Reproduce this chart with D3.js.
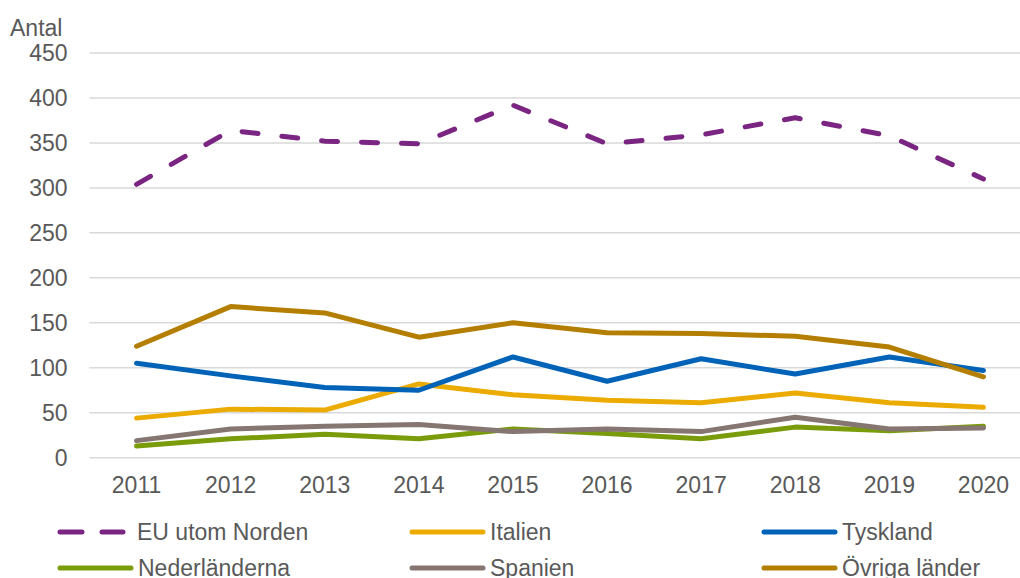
<!DOCTYPE html>
<html>
<head>
    <meta charset="UTF-8">
    <title>Antal per land</title>
    <script src="https://d3js.org/d3.v7.min.js"></script>
    <style>
        body { margin: 0; background: #fff; }
        svg { font-family: "Liberation Sans", Arial, sans-serif; }
        .tick text { fill: #595959; font-size: 23px; }
    </style>
</head>
<body>
    <svg></svg>
    <script>
        const years = ['2011', '2012', '2013', '2014', '2015', '2016', '2017', '2018', '2019', '2020'];
        const yTicks = [0, 50, 100, 150, 200, 250, 300, 350, 400, 450];

        const euUtomNorden = [304, 364, 352, 349, 392, 349, 359, 378, 358, 310];
        const italien = [44, 54, 53, 82, 70, 64, 61, 72, 61, 56];
        const tyskland = [105, 91, 78, 75, 112, 85, 110, 93, 112, 97];
        const nederlanderna = [13, 21, 26, 21, 32, 27, 21, 34, 30, 35];
        const spanien = [19, 32, 35, 37, 29, 32, 29, 45, 32, 33];
        const ovriga = [124, 168, 161, 134, 150, 139, 138, 135, 123, 90];

        const series = [
            { name: 'EU utom Norden', values: euUtomNorden, color: '#7B2582', dash: true },
            { name: 'Italien', values: italien, color: '#EBAB00' },
            { name: 'Tyskland', values: tyskland, color: '#0063B8' },
            { name: 'Nederländerna', values: nederlanderna, color: '#7A9C0B' },
            { name: 'Spanien', values: spanien, color: '#857672' },
            { name: 'Övriga länder', values: ovriga, color: '#B47E00' }
        ];

        const W = 1020, H = 578;
        const svg = d3.select('svg').attr('width', W).attr('height', H);

        const x = d3.scaleBand().domain(years).range([89.5, 1030.5]);
        const y = d3.scaleLinear().domain([0, 450]).range([457.7, 53]);

        // gridlines
        svg.append('g')
            .selectAll('line')
            .data(yTicks)
            .enter().append('line')
            .attr('x1', 89.5)
            .attr('x2', 1030)
            .attr('y1', d => y(d))
            .attr('y2', d => y(d))
            .attr('stroke', '#d9d9d9')
            .attr('stroke-width', 1.5);

        const yAxis = svg.append('g')
            .attr('transform', 'translate(89.5,0)')
            .call(d3.axisLeft(y).tickValues(yTicks).tickSize(0).tickPadding(22));
        yAxis.select('.domain').remove();

        const xAxis = svg.append('g')
            .attr('transform', 'translate(0,457.7)')
            .call(d3.axisBottom(x).tickSize(0).tickPadding(19));
        xAxis.select('.domain').remove();

        svg.append('text')
            .attr('x', 10)
            .attr('y', 36)
            .attr('fill', '#595959')
            .attr('font-size', '23px')
            .text('Antal');

        const line = d3.line()
            .x((d, i) => x(years[i]) + x.bandwidth() / 2)
            .y(d => y(d));

        svg.append('g')
            .selectAll('path')
            .data(series)
            .enter().append('path')
            .attr('d', d => line(d.values))
            .attr('fill', 'none')
            .attr('stroke', d => d.color)
            .attr('stroke-width', 5)
            .attr('stroke-linecap', 'round')
            .attr('stroke-linejoin', 'round')
            .attr('stroke-dasharray', d => d.dash ? '16,24' : null);

        // legend
        const legend = svg.append('g')
            .selectAll('g')
            .data(series)
            .enter().append('g')
            .attr('transform', (d, i) => `translate(${60 + (i % 3) * 352},${i < 3 ? 532 : 568})`);

        legend.append('line')
            .attr('x1', 0)
            .attr('x2', d => d.dash ? 63 : 71)
            .attr('y1', 0)
            .attr('y2', 0)
            .attr('stroke', d => d.color)
            .attr('stroke-width', 5)
            .attr('stroke-linecap', 'round')
            .attr('stroke-dasharray', d => d.dash ? '22,20' : null);

        legend.append('text')
            .attr('x', d => d.dash ? 77 : 78)
            .attr('y', 0)
            .attr('dy', '0.35em')
            .attr('fill', '#595959')
            .attr('font-size', '23px')
            .text(d => d.name);
    </script>
</body>
</html>
